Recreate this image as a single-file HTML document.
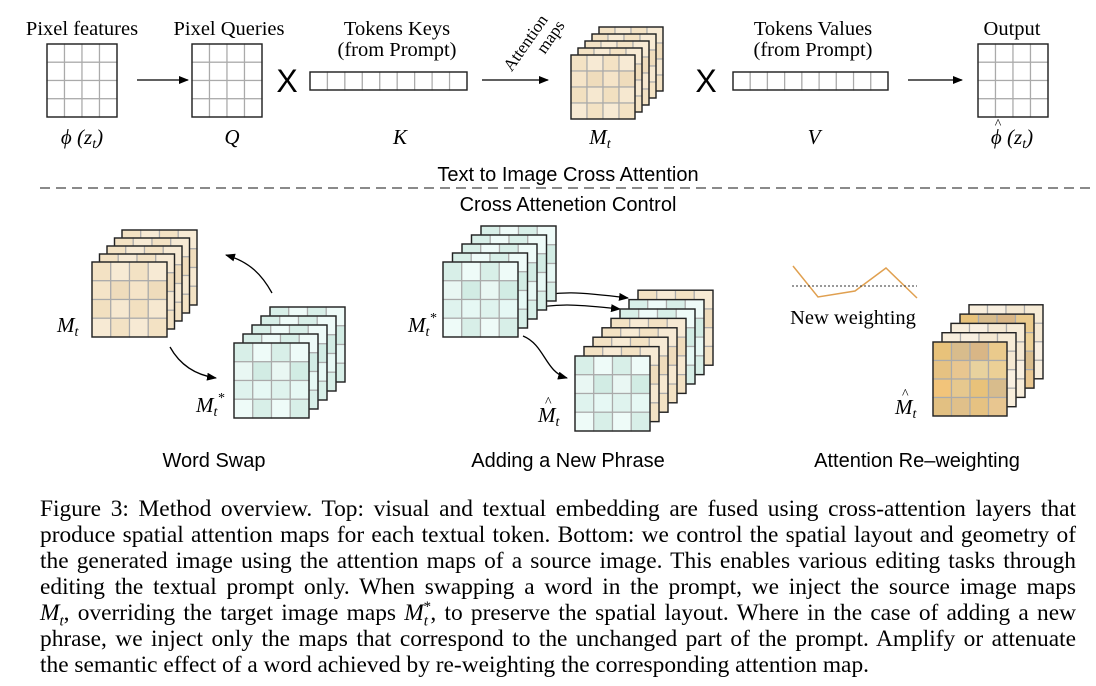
<!DOCTYPE html>
<html><head><meta charset="utf-8"><style>
body{margin:0;background:#fff;width:1096px;height:686px;overflow:hidden;position:relative}
svg{position:absolute;left:0;top:0}
.cap{position:absolute;left:40px;width:1036px;font-family:"Liberation Serif",serif;font-size:23.4px;line-height:26px;top:496px;color:#000}
.cap div{text-align:justify;text-align-last:justify;white-space:nowrap;height:26px}
.cap div.last{text-align-last:left}
.cap sub,.cap sup{line-height:0;font-size:15px}
</style></head><body>
<svg id="s" width="1096" height="686" font-family="Liberation Serif, serif">
<defs><marker id="ah" markerWidth="10" markerHeight="8" refX="9" refY="4" orient="auto" markerUnits="userSpaceOnUse"><path d="M0,0L10,4L0,8z" fill="#000"/></marker></defs>
<g font-size="20.5" text-anchor="middle">
<text x="82" y="35">Pixel features</text>
<text x="229" y="35">Pixel Queries</text>
<text x="397" y="35">Tokens Keys</text>
<text x="397" y="56">(from Prompt)</text>
<text x="813" y="35">Tokens Values</text>
<text x="813" y="56">(from Prompt)</text>
<text x="1012" y="35">Output</text>
<g font-style="italic" font-size="21">
<text x="82" y="144">ϕ (z<tspan font-size="14" dy="4">t</tspan><tspan dy="-4">)</tspan></text>
<text x="232" y="144">Q</text>
<text x="400" y="144">K</text>
<text x="600" y="144">M<tspan font-size="14" dy="4">t</tspan></text>
<text x="814" y="144">V</text>
<text x="1012" y="144">ϕ (z<tspan font-size="14" dy="4">t</tspan><tspan dy="-4">)</tspan></text>
<text x="998" y="128" font-size="14" font-style="normal">^</text>
</g>
<text x="0" y="0" font-size="17" transform="translate(530,46) rotate(-55)">Attention</text>
<text x="0" y="0" font-size="17" transform="translate(555,40) rotate(-55)">maps</text>
</g>
<g font-family="Liberation Sans, sans-serif" font-size="20" text-anchor="middle">
<text x="568" y="181">Text to Image Cross Attention</text>
<text x="568" y="211">Cross Attenetion Control</text>
<text x="214" y="467">Word Swap</text>
<text x="568" y="467">Adding a New Phrase</text>
<text x="917" y="467">Attention Re–weighting</text>
<text x="287" y="92" font-size="32">X</text>
<text x="706" y="92" font-size="32">X</text>
</g>
<line x1="40" y1="188" x2="1090" y2="188" stroke="#444" stroke-width="1.2" stroke-dasharray="10,6"/>
<g stroke="#000" stroke-width="1.3" fill="none" marker-end="url(#ah)">
<line x1="137" y1="80" x2="188" y2="80"/>
<line x1="482" y1="80" x2="548" y2="80"/>
<line x1="908" y1="80" x2="962" y2="80"/>
<path d="M272,293 C262,275 250,262 226,255"/>
<path d="M170,347 C180,365 195,375 216,378"/>
<path d="M523,299 C560,290 580,292 628,298"/>
<path d="M523,310 C560,302 580,305 620,309"/>
<path d="M523,336 C545,345 545,372 567,378"/>
</g>
<polyline points="793,266 818,297 855,291 886,268 917,298" fill="none" stroke="#e0a050" stroke-width="1.5"/>
<line x1="792" y1="286" x2="917" y2="286" stroke="#333" stroke-dasharray="2,2"/>
<text x="853" y="324" font-size="20.5" text-anchor="middle">New weighting</text>
<g font-style="italic" font-size="21">
<text x="57" y="332">M<tspan font-size="14" dy="4">t</tspan></text>
<text x="196" y="412">M<tspan font-size="14" dy="4">t</tspan><tspan font-size="14" dy="-14">*</tspan></text>
<text x="408" y="332">M<tspan font-size="14" dy="4">t</tspan><tspan font-size="14" dy="-14">*</tspan></text>
<text x="538" y="422">M<tspan font-size="14" dy="4">t</tspan></text>
<text x="545" y="406" font-size="14" font-style="normal">^</text>
<text x="895" y="414">M<tspan font-size="14" dy="4">t</tspan></text>
<text x="902" y="398" font-size="14" font-style="normal">^</text>
</g>
<g id="g"></g>
</svg>
<div class="cap">
<div>Figure 3: Method overview. Top: visual and textual embedding are fused using cross-attention layers that</div>
<div>produce spatial attention maps for each textual token. Bottom: we control the spatial layout and geometry of</div>
<div>the generated image using the attention maps of a source image. This enables various editing tasks through</div>
<div>editing the textual prompt only. When swapping a word in the prompt, we inject the source image maps</div>
<div><i>M<sub>t</sub></i>, overriding the target image maps <i>M<sub>t</sub><sup style="margin-left:-5px">*</sup></i>, to preserve the spatial layout. Where in the case of adding a new</div>
<div>phrase, we inject only the maps that correspond to the unchanged part of the prompt. Amplify or attenuate</div>
<div class="last">the semantic effect of a word achieved by re-weighting the corresponding attention map.</div>
</div>
<script>
const g=document.getElementById('g');
const NS='http://www.w3.org/2000/svg';
const B=['#f3e2c4','#f6e8d0','#efdcbc','#f7ead4','#f2e0c0','#f5e4c8'];
const G=['#d8efe8','#e6f8f4','#d2ece4','#eefbf8','#dff3ee','#e9f7f3'];
const O=['#e8c27a','#ecc98a','#e0c08a','#d8bc8c','#e0bc84','#e6c282','#d9b686','#e6c080','#e8c690','#eaca8c','#f2c47a','#e8d29e','#e8c890','#e6c88e','#ecd096','#e2c082'];
const W=['#f8eedc','#f6ebd6','#f4e8d2','#f8efe0'];
function grid(x,y,w,h,cols,rows,pal,name){
 const grp=document.createElementNS(NS,'g');
 
 
 const cw=w/cols,ch=h/rows;
 for(let r=0;r<rows;r++)for(let c=0;c<cols;c++){
  const e=document.createElementNS(NS,'rect');
  e.setAttribute('x',x+c*cw);e.setAttribute('y',y+r*ch);e.setAttribute('width',cw);e.setAttribute('height',ch);
  e.setAttribute('fill',pal?pal[(r*cols+c*3+r)%pal.length]:'#fff');e.setAttribute('stroke','#aaa');e.setAttribute('stroke-width','1.2');
  grp.appendChild(e);}
 const f=document.createElementNS(NS,'rect');
 f.setAttribute('x',x);f.setAttribute('y',y);f.setAttribute('width',w);f.setAttribute('height',h);
 f.setAttribute('fill','none');f.setAttribute('stroke','#222');f.setAttribute('stroke-width','1.4');
 grp.appendChild(f);g.appendChild(grp);}
function stack(x,y,w,n,dx,dy,pals,name){
 for(let i=n-1;i>=0;i--)grid(x+i*dx,y-i*dy,w,w,4,4,pals[i],name);}
grid(47,44,70,73,4,4,null,'pixel-features-grid');
grid(192,44,70,73,4,4,null,'pixel-queries-grid');
grid(310,72,157,18,9,1,null,'keys-bar');
grid(733,72,155,18,9,1,null,'values-bar');
grid(978,44,70,73,4,4,null,'output-grid');
stack(571,55,64,5,7,7,[B,B,B,B,B],'attention-maps-stack');
stack(92,262,75,5,7.5,8,[B,B,B,B,B],'mt-stack');
stack(234,343,75,5,9,9,[G,G,G,G,G],'mt-star-stack');
stack(443,262,75,5,9.5,9,[G,G,G,G,G],'mt-star-stack-2');
stack(575,356,75,8,9,9.4,[G,B,B,B,B,G,G,B],'mixed-stack');
stack(933,342,74,5,9,9.3,[O,W,W,O,W],'reweighted-stack');
</script>
</body></html>
